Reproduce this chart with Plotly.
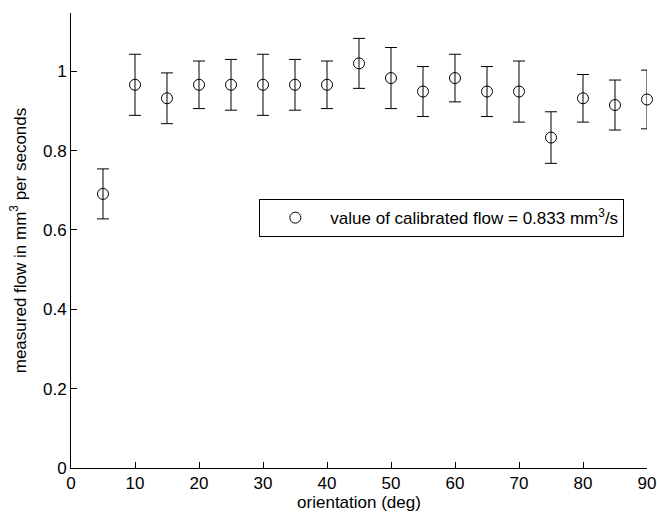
import plotly.graph_objects as go

orientation = [5, 10, 15, 20, 25, 30, 35, 40, 45, 50, 55, 60, 65, 70, 75, 80, 85, 90]
flow = [0.691, 0.966, 0.932, 0.966, 0.966, 0.966, 0.966, 0.966, 1.020,
        0.983, 0.949, 0.983, 0.949, 0.949, 0.833, 0.932, 0.915, 0.929]
err = [0.063, 0.077, 0.064, 0.060, 0.064, 0.077, 0.064, 0.060, 0.063,
       0.077, 0.063, 0.060, 0.063, 0.077, 0.065, 0.060, 0.063, 0.074]
x_ticks = [0, 10, 20, 30, 40, 50, 60, 70, 80, 90]
y_ticks = [0, 0.2, 0.4, 0.6, 0.8, 1]
y_tick_text = ["0", "0.2", "0.4", "0.6", "0.8", "1"]

FONT = "Liberation Sans, Arial, Helvetica, sans-serif"
FS = 17

fig = go.Figure()
fig.add_trace(go.Scatter(
    x=orientation, y=flow, mode="markers",
    name="value of calibrated flow = 0.833 mm<sup>3</sup>/s",
    marker=dict(symbol="circle-open", size=11, color="black", line=dict(width=1, color="black")),
    error_y=dict(type="data", array=err, visible=True, color="black", thickness=1, width=6),
    cliponaxis=False,
    showlegend=True,
))

fig.update_layout(
    width=657, height=513,
    margin=dict(l=71, r=10, t=13, b=45, autoexpand=False),
    paper_bgcolor="white", plot_bgcolor="white",
    font=dict(family=FONT, size=FS, color="black"),
    showlegend=True,
    legend=dict(
        x=0.327, y=0.591, xanchor="left", yanchor="top",
        bgcolor="white", bordercolor="black", borderwidth=1,
        font=dict(size=FS, family=FONT, color="black"),
        itemwidth=60,
    ),
    xaxis=dict(
        range=[0, 90], tickvals=x_ticks, ticks="inside", ticklen=6, tickcolor="black",
        showline=True, linecolor="black", linewidth=1, showgrid=False, zeroline=False,
        automargin=False,
        title=dict(text="orientation (deg)", standoff=2, font=dict(size=FS)),
        tickfont=dict(size=FS),
    ),
    yaxis=dict(
        range=[0, 1.147], tickvals=y_ticks, ticktext=y_tick_text, ticks="inside", ticklen=6,
        tickcolor="black", showline=True, linecolor="black", linewidth=1, showgrid=False,
        zeroline=False, automargin=False,
        title=dict(text="measured flow in mm<sup>3</sup> per seconds", standoff=12, font=dict(size=FS)),
        tickfont=dict(size=FS),
    ),
)

fig.write_html("out.html")
